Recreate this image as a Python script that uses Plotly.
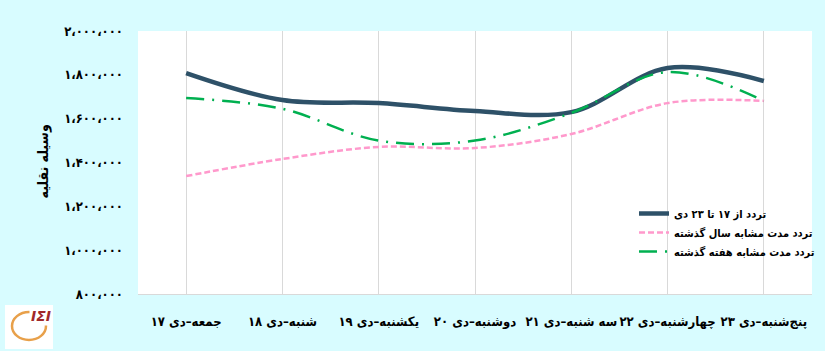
import plotly.graph_objects as go

categories = ["جمعه–دی ۱۷", "شنبه–دی ۱۸", "یکشنبه–دی ۱۹", "دوشنبه–دی ۲۰",
              "سه شنبه–دی ۲۱", "چهارشنبه–دی ۲۲", "پنج\u200cشنبه–دی ۲۳"]
current = [1808000, 1685000, 1671000, 1635000, 1630000, 1831000, 1772000]
last_year = [1338000, 1416000, 1471000, 1466000, 1530000, 1671000, 1681000]
last_week = [1694000, 1645000, 1500000, 1500000, 1626000, 1813000, 1681000]
series_names = ["تردد از ۱۷ تا ۲۳ دی", "تردد مدت مشابه سال گذشته", "تردد مدت مشابه هفته گذشته"]
y_tickvals = [800000, 1000000, 1200000, 1400000, 1600000, 1800000, 2000000]
y_ticktext = ["۸۰۰،۰۰۰", "۱،۰۰۰،۰۰۰", "۱،۲۰۰،۰۰۰", "۱،۴۰۰،۰۰۰", "۱،۶۰۰،۰۰۰", "۱،۸۰۰،۰۰۰", "۲،۰۰۰،۰۰۰"]
y_title = "وسیله نقلیه"

FONT = "DejaVu Sans Condensed, DejaVu Sans"
W, H = 825, 351
L, R, T, B = 138, 13, 31, 57
pw, ph = W - L - R, H - T - B


def px_x(x):
    return (x - L) / pw


def px_y(y):
    return (H - B - y) / ph


x_idx = list(range(len(categories)))

fig = go.Figure()
fig.add_trace(go.Scatter(x=x_idx, y=current, name=series_names[0], mode="lines",
                         line=dict(color="#2E5168", width=4.5, shape="spline", smoothing=1)))
fig.add_trace(go.Scatter(x=x_idx, y=last_year, name=series_names[1], mode="lines",
                         line=dict(color="#FF99CC", width=2.5, shape="spline", smoothing=1, dash="6px,3px")))
fig.add_trace(go.Scatter(x=x_idx, y=last_week, name=series_names[2], mode="lines",
                         line=dict(color="#00B050", width=2.5, shape="spline", smoothing=1, dash="18px,8px,2px,8px")))

fig.update_layout(
    width=W, height=H,
    margin=dict(l=L, r=R, t=T, b=B, pad=0, autoexpand=False),
    paper_bgcolor="#D8FCFF",
    plot_bgcolor="#FFFFFF",
    font=dict(family=FONT, color="#000000"),
    showlegend=True,
    legend=dict(x=px_x(634), y=px_y(199), xanchor="left", yanchor="top",
                bgcolor="rgba(255,255,255,0)", borderwidth=0,
                font=dict(family=FONT, size=11, color="#000000", weight="bold"),
                tracegroupgap=0, itemwidth=30),
    xaxis=dict(
        range=[-0.5, 6.5], tickmode="array", tickvals=x_idx, ticktext=categories,
        showgrid=True, gridcolor="#D9D9D9", gridwidth=1,
        showline=True, linecolor="#D9D9D9", linewidth=1,
        ticks="", ticklabelstandoff=15, zeroline=False, tickangle=0, automargin=False,
        tickfont=dict(family=FONT, size=13, color="#000000", weight="bold"),
    ),
    yaxis=dict(
        range=[800000, 2000000], tickmode="array", tickvals=y_tickvals, ticktext=y_ticktext,
        showgrid=False, showline=False, zeroline=False, ticks="", ticklabelstandoff=14,
        automargin=False,
        tickfont=dict(family=FONT, size=13, color="#000000", weight="bold"),
    ),
)

fig.add_annotation(text=y_title, xref="paper", yref="paper", x=px_x(32), y=px_y(162),
                   showarrow=False, textangle=-90,
                   font=dict(family=FONT, size=14, color="#000000", weight="bold"))

# logo approximation
fig.add_shape(type="rect", xref="paper", yref="paper", x0=px_x(5), x1=px_x(53), y0=px_y(349), y1=px_y(305),
              fillcolor="#FFFFFF", line=dict(width=0), layer="above")
fig.add_shape(type="circle", xref="paper", yref="paper", x0=px_x(12), x1=px_x(46), y0=px_y(340), y1=px_y(312),
              fillcolor="rgba(0,0,0,0)", line=dict(color="#E8A04A", width=2.5), layer="above")
fig.add_annotation(text="<b><i>IΣI</i></b>", xref="paper", yref="paper", x=px_x(29), y=px_y(326),
                   showarrow=False, bgcolor="#FFFFFF",
                   font=dict(family="DejaVu Sans", size=14, color="#A0282A"))

fig.write_html("out.html")
